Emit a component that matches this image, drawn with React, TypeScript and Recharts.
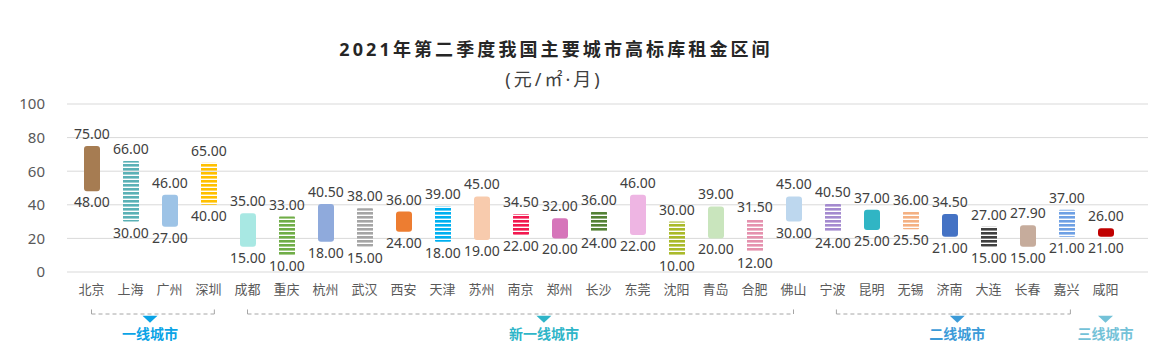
import React from "react";
import {
  Bar,
  CartesianGrid,
  Cell,
  ComposedChart,
  ReferenceDot,
  ReferenceLine,
  XAxis,
  YAxis,
} from "recharts";

const FONT = "'Noto Sans', 'Noto Sans CJK SC', sans-serif";

// cities in chart order
const cities = [
  "北京", "上海", "广州", "深圳",
  "成都", "重庆", "杭州", "武汉", "西安", "天津", "苏州", "南京", "郑州", "长沙", "东莞", "沈阳", "青岛", "合肥", "佛山",
  "宁波", "昆明", "无锡", "济南", "大连", "长春", "嘉兴",
  "咸阳",
];

// rent range, yuan / m2 / month
const lowValues = [
  48, 30, 27, 40,
  15, 10, 18, 15, 24, 18, 19, 22, 20, 24, 22, 10, 20, 12, 30,
  24, 25, 25.5, 21, 15, 15, 21,
  21,
];
const highValues = [
  75, 66, 46, 65,
  35, 33, 40.5, 38, 36, 39, 45, 34.5, 32, 36, 46, 30, 39, 31.5, 45,
  40.5, 37, 36, 34.5, 27, 27.9, 37,
  26,
];

const barColors = [
  "#A67C52", "#5BB1B6", "#9DC3E6", "#FFC000",
  "#A8E8E3", "#70AD47", "#8FAADC", "#A5A5A5", "#ED7D31", "#00B0F0", "#F8CBAD", "#F2184F", "#D675BA", "#548235", "#EEB5E3", "#AABA2A", "#C9E5BD", "#E591AE", "#BDD7EE",
  "#A48ACF", "#30B5C4", "#F4B183", "#4472C4", "#404040", "#C6AC9C", "#6EA0E4",
  "#C00000",
];
const striped = [
  false, true, false, true,
  false, true, false, true, false, true, false, true, false, true, false, true, false, true, false,
  true, false, true, false, true, false, true,
  false,
];

const yTicks = [0, 20, 40, 60, 80, 100];

// city tiers: bracket span and marker position, in category index units
const tierNames = ["一线城市", "新一线城市", "二线城市", "三线城市"];
const tierColors = ["#0AA3E6", "#2FB5C8", "#3C9BD8", "#74C2D8"];
const tierFrom = [0, 4, 19.1, null];
const tierTo = [3.15, 18, 25.1, null];
const tierMark = [1.5, 11.6, 22.2, 26];

const data = cities.map((city, i) => ({
  city,
  idx: i,
  range: [lowValues[i], highValues[i]],
}));

function RangeLabel(props: any) {
  const { x, y, width, height, index } = props;
  if (index == null) return null;
  const top = Math.min(y, y + height);
  const bottom = Math.max(y, y + height);
  const cx = x + width / 2;
  return (
    <g fontFamily={FONT} fontSize={14} fill="#404040" textAnchor="middle">
      <text x={cx} y={top - 7}>{highValues[index].toFixed(2)}</text>
      <text x={cx} y={bottom + 16}>{lowValues[index].toFixed(2)}</text>
    </g>
  );
}

function TierMark(props: any) {
  const { cx, cy, name, color } = props;
  return (
    <g>
      <polygon points={`${cx - 7.5},${cy} ${cx + 7.5},${cy} ${cx},${cy + 7}`} fill={color} />
      <text
        x={cx}
        y={cy + 23}
        textAnchor="middle"
        fontFamily={FONT}
        fontSize={14}
        fontWeight="bold"
        fill={color}
      >
        {name}
      </text>
    </g>
  );
}

export default function App() {
  return (
    <div style={{ position: "relative", width: 1169, height: 358, background: "#fff" }}>
      <style>{`body{margin:0}`}</style>
      <svg width={1169} height={100} style={{ position: "absolute", left: 0, top: 0 }}>
        <text
          x={556}
          y={56}
          textAnchor="middle"
          fontFamily={FONT}
          fontSize={18}
          fontWeight="bold"
          letterSpacing={3.1}
          fill="#262626"
        >
          2021年第二季度我国主要城市高标库租金区间
        </text>
        <text
          x={554}
          y={86}
          textAnchor="middle"
          fontFamily={FONT}
          fontSize={18}
          letterSpacing={3}
          fill="#404040"
        >
          (元/㎡·月)
        </text>
      </svg>
      <ComposedChart
        width={1169}
        height={358}
        data={data}
        margin={{ top: 104, right: 21, left: 0, bottom: 56 }}
      >
        <defs>
          {barColors.map((c, i) => (
            <pattern key={i} id={`stripe-${i}`} patternUnits="userSpaceOnUse" width={20} height={4}>
              <rect x={0} y={0} width={20} height={2.6} fill={c} />
            </pattern>
          ))}
        </defs>
        <CartesianGrid vertical={false} stroke="#D9D9D9" />
        <XAxis
          dataKey="city"
          height={30}
          axisLine={false}
          tickLine={false}
          tickSize={0}
          tickMargin={13}
          interval={0}
          padding={{ left: 5, right: 23 }}
          tick={{ fontSize: 13, fill: "#595959", fontFamily: FONT }}
        />
        <XAxis
          xAxisId="n"
          dataKey="idx"
          type="number"
          hide
          domain={[-0.5, 26.5]}
          allowDataOverflow
          padding={{ left: 5, right: 23 }}
        />
        <YAxis
          width={67}
          domain={[0, 100]}
          ticks={yTicks}
          axisLine={false}
          tickLine={false}
          tickSize={0}
          tickMargin={22}
          tick={{ fontSize: 15, fill: "#595959", fontFamily: FONT }}
        />
        <Bar dataKey="range" barSize={16} isAnimationActive={false} label={<RangeLabel />}>
          {data.map((d, i) => (
            <Cell
              key={d.city}
              fill={striped[i] ? `url(#stripe-${i})` : barColors[i]}
              radius={striped[i] ? 1 : 3}
            />
          ))}
        </Bar>
        {tierNames.map((name, i) =>
          tierFrom[i] == null ? null : (
            <ReferenceLine
              key={`b-${name}`}
              xAxisId="n"
              ifOverflow="visible"
              segment={[
                { x: tierFrom[i], y: -25 },
                { x: tierTo[i], y: -25 },
              ]}
              stroke="#A6A6A6"
              strokeDasharray="4 3"
            />
          )
        )}
        {tierNames.map((name, i) =>
          tierFrom[i] == null ? null : (
            <ReferenceLine
              key={`l-${name}`}
              xAxisId="n"
              ifOverflow="visible"
              segment={[
                { x: tierFrom[i], y: -22.3 },
                { x: tierFrom[i], y: -25 },
              ]}
              stroke="#A6A6A6"
            />
          )
        )}
        {tierNames.map((name, i) =>
          tierTo[i] == null ? null : (
            <ReferenceLine
              key={`r-${name}`}
              xAxisId="n"
              ifOverflow="visible"
              segment={[
                { x: tierTo[i], y: -22.3 },
                { x: tierTo[i], y: -25 },
              ]}
              stroke="#A6A6A6"
            />
          )
        )}
        {tierNames.map((name, i) => (
          <ReferenceDot
            key={`m-${name}`}
            xAxisId="n"
            x={tierMark[i]}
            y={-26}
            ifOverflow="visible"
            shape={(p: any) => <TierMark {...p} name={name} color={tierColors[i]} />}
          />
        ))}
      </ComposedChart>
    </div>
  );
}
